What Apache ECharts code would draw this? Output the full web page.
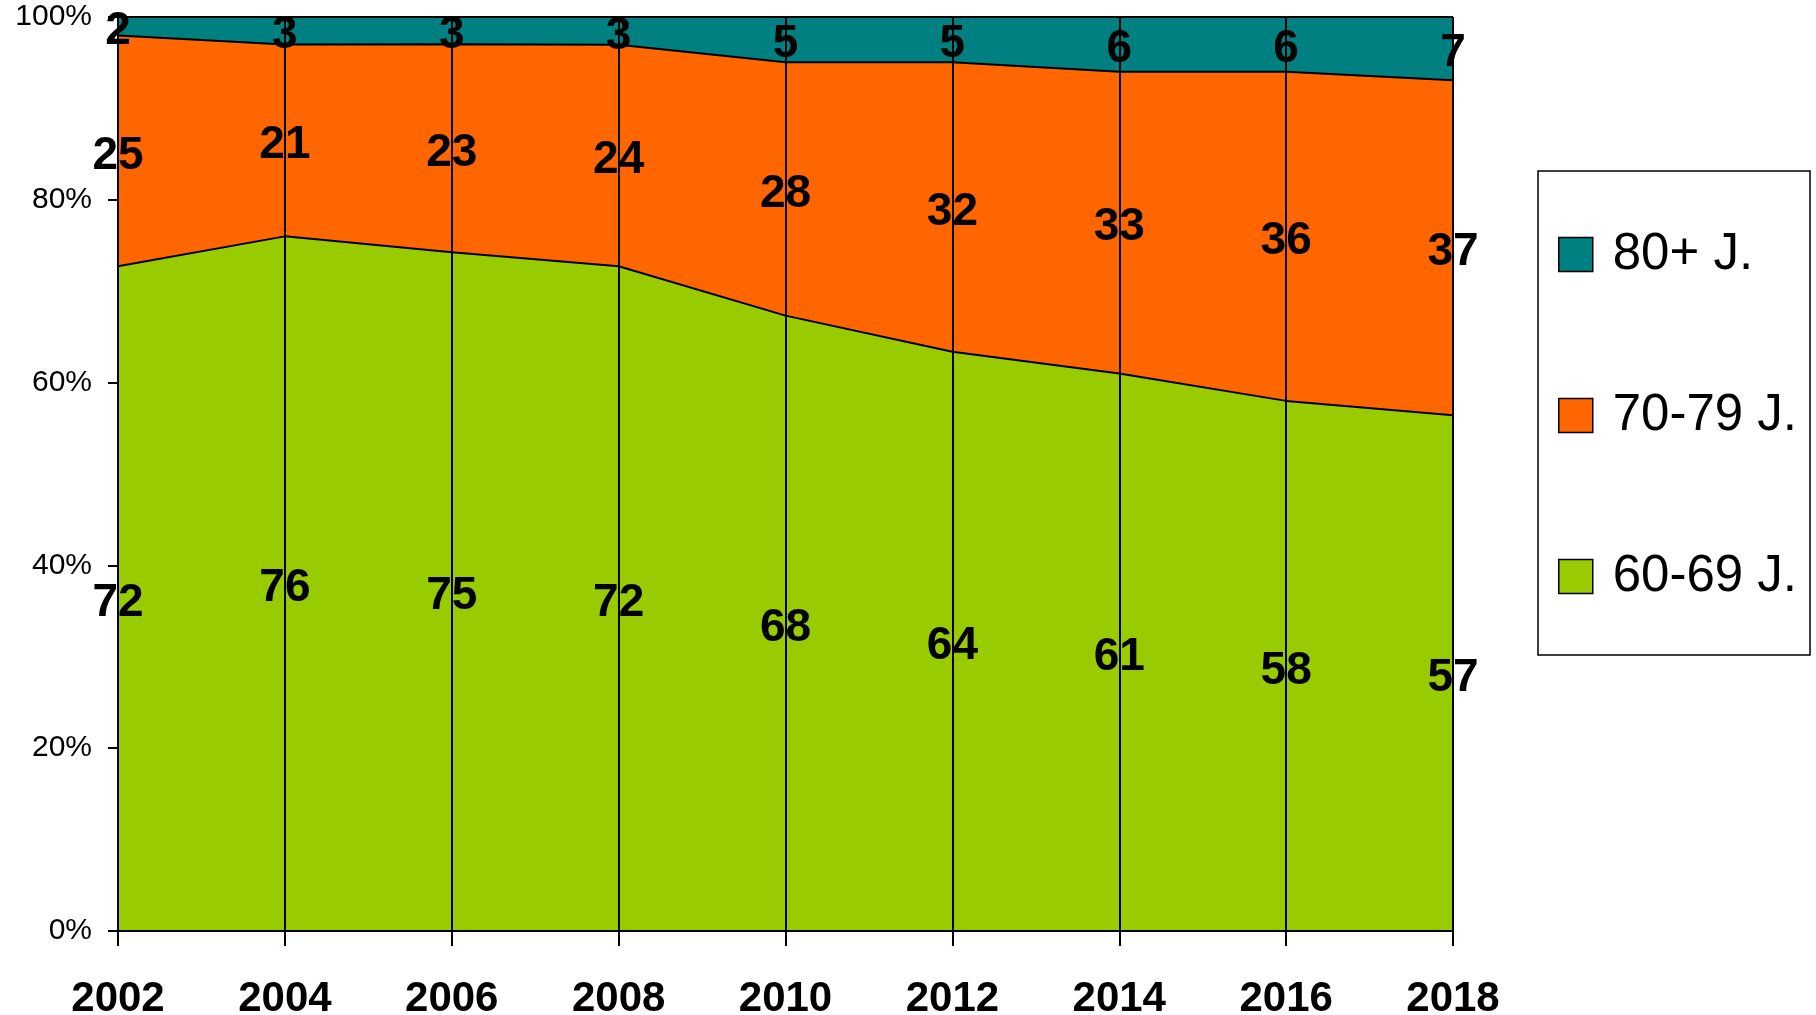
<!DOCTYPE html>
<html>
<head>
<meta charset="utf-8">
<script src="https://cdn.jsdelivr.net/npm/echarts@6/dist/echarts.min.js"></script>
<style>
html,body{margin:0;padding:0;background:#fff;}
#chart{width:1816px;height:1015px;}
</style>
</head>
<body>
<div id="chart"></div>
<script>
var years = ['2002','2004','2006','2008','2010','2012','2014','2016','2018'];
var age6069 = [72,76,75,72,68,64,61,58,57];
var age7079 = [25,21,23,24,28,32,33,36,37];
var age80 = [2,3,3,3,5,5,6,6,7];
var yTicks = [0,20,40,60,80,100];

var names = ['60-69 J.','70-79 J.','80+ J.'];
var colors = ['#99CC00','#FF6600','#008080'];
var raw = [age6069, age7079, age80];

var sums = years.map(function(_, i){ return age6069[i] + age7079[i] + age80[i]; });
var pct = raw.map(function(arr){ return arr.map(function(v, i){ return v / sums[i] * 100; }); });

var series = [];
pct.forEach(function(arr, k){
  series.push({
    name: names[k],
    type: 'line',
    stack: 'total',
    data: arr,
    symbol: 'none',
    lineStyle: {color: '#000', width: 2},
    areaStyle: {color: colors[k], opacity: 1},
    itemStyle: {color: colors[k]},
    z: 2
  });
});
// label positions: middle of each band
pct.forEach(function(arr, k){
  var mids = arr.map(function(v, i){
    var base = 0;
    for (var j = 0; j < k; j++) base += pct[j][i];
    return [years[i], base + v / 2];
  });
  series.push({
    name: names[k] + ' label',
    type: 'scatter',
    data: mids,
    symbolSize: 0,
    itemStyle: {color: '#000', opacity: 1},
    silent: true,
    z: 5,
    label: {
      show: true,
      position: 'inside',
      offset: [0, 5],
      formatter: function(p){ return String(raw[k][p.dataIndex]); },
      fontFamily: 'Liberation Sans, Arial, sans-serif',
      fontWeight: 'bold',
      fontSize: 46,
      color: '#000',
      opacity: 1,
      textBorderWidth: 0
    }
  });
});

var chart = echarts.init(document.getElementById('chart'));
chart.setOption({
  animation: false,
  backgroundColor: '#fff',
  grid: {left: 118, right: 363, top: 17, bottom: 84, containLabel: false, outerBoundsMode: 'none'},
  legend: {
    data: ['80+ J.','70-79 J.','60-69 J.'],
    orient: 'vertical',
    left: 1538,
    top: 171,
    padding: [58, 13, 53, 20],
    itemWidth: 34,
    itemHeight: 34,
    itemGap: 110,
    borderColor: '#000',
    borderWidth: 1.5,
    icon: 'rect',
    itemStyle: {borderColor: '#000', borderWidth: 1.5},
    textStyle: {
      fontFamily: 'Liberation Sans, Arial, sans-serif',
      fontSize: 51,
      color: '#000',
      padding: [6, 0, 0, 15]
    }
  },
  xAxis: {
    type: 'category',
    data: years,
    boundaryGap: false,
    axisLine: {lineStyle: {color: '#000', width: 2}},
    axisTick: {show: true, length: 15, lineStyle: {color: '#000', width: 2}},
    axisLabel: {
      margin: 47,
      fontFamily: 'Liberation Sans, Arial, sans-serif',
      fontWeight: 'bold',
      fontSize: 42,
      color: '#000'
    },
    splitLine: {show: true, lineStyle: {color: '#000', width: 2}},
    z: 10
  },
  yAxis: {
    type: 'value',
    min: yTicks[0],
    max: yTicks[yTicks.length - 1],
    interval: 20,
    axisLine: {show: true, lineStyle: {color: '#000', width: 2}},
    axisTick: {show: true, length: 10, lineStyle: {color: '#000', width: 2}},
    axisLabel: {
      margin: 26,
      formatter: '{value}%',
      fontFamily: 'Liberation Sans, Arial, sans-serif',
      fontSize: 30,
      color: '#000',
      padding: [6, 0, 0, 0]
    },
    splitLine: {show: false},
    z: 10
  },
  series: series
});
</script>
</body>
</html>
